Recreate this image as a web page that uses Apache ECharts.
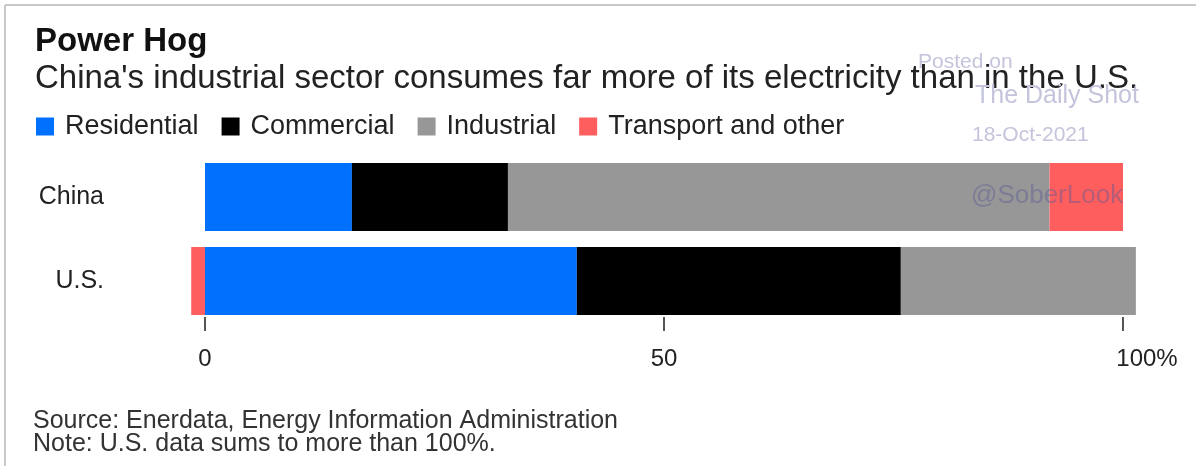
<!DOCTYPE html>
<html>
<head>
<meta charset="utf-8">
<script src="https://cdn.jsdelivr.net/npm/echarts@6/dist/echarts.min.js"></script>
<style>
  html, body { margin: 0; padding: 0; background: #fff; }
  #chart { width: 1196px; height: 466px; }
</style>
</head>
<body>
<div id="chart"></div>
<script>
var categories = ['China', 'U.S.']
var seriesNames = ['Residential', 'Commercial', 'Industrial', 'Transport and other']
var residential = [16, 40.5]
var commercial = [17, 35.3]
var industrial = [59, 25.6]
var transport = [8, -1.5]
var xTicks = [0, 50, 100]

var colors = ['#0070ff', '#000000', '#979797', '#ff5e5e']
var font = 'Liberation Sans, Arial, sans-serif'

var chart = echarts.init(document.getElementById('chart'))

function bar (name, values, color) {
  return {
    name: name,
    type: 'bar',
    stack: 'total',
    barWidth: 68,
    clip: false,
    itemStyle: { color: color },
    data: values
  }
}

var option = {
  animation: false,
  textStyle: { fontFamily: font },
  title: [
    {
      text: 'Power Hog',
      left: 30, top: 20,
      textStyle: { fontSize: 33, fontWeight: 'bold', color: '#111', fontFamily: font }
    },
    {
      text: "China's industrial sector consumes far more of its electricity than in the U.S.",
      left: 30, top: 57,
      textStyle: { fontSize: 33, fontWeight: 'normal', color: '#222', fontFamily: font }
    },
    {
      text: 'Source: Enerdata, Energy Information Administration\nNote: U.S. data sums to more than 100%.',
      left: 28, top: 405,
      textStyle: { fontSize: 25, lineHeight: 23, fontWeight: 'normal', color: '#333', fontFamily: font }
    }
  ],
  legend: {
    left: 31, top: 108,
    icon: 'rect',
    itemWidth: 18, itemHeight: 18,
    itemGap: 23,
    data: seriesNames,
    textStyle: { fontSize: 27, color: '#222', padding: [0, 0, 0, 6], fontFamily: font }
  },
  grid: {
    left: 205, right: 73, top: 155, bottom: 143,
    outerBoundsMode: 'none'
  },
  xAxis: {
    type: 'value',
    min: xTicks[0], max: xTicks[xTicks.length - 1], interval: 50,
    offset: -6,
    axisLine: { show: false },
    splitLine: { show: false },
    axisTick: { show: true, length: 14, lineStyle: { color: '#555', width: 2 } },
    axisLabel: {
      fontSize: 24, color: '#222', margin: 30,
      formatter: function (v) { return v === 100 ? '{p|100%}' : String(v) },
      rich: { p: { fontSize: 24, color: '#222', padding: [0, 0, 0, 48], fontFamily: font } }
    }
  },
  yAxis: {
    type: 'category',
    inverse: true,
    data: categories,
    axisLine: { show: false },
    axisTick: { show: false },
    axisLabel: { fontSize: 25, color: '#222', margin: 101 }
  },
  graphic: [
    { type: 'line', shape: { x1: 5, y1: 5, x2: 1196, y2: 5 }, style: { stroke: '#c8c8c8', lineWidth: 2 } },
    { type: 'line', shape: { x1: 5, y1: 5, x2: 5, y2: 466 }, style: { stroke: '#c8c8c8', lineWidth: 2 } },
    { type: 'text', left: 918, top: 52, z: -1, style: { text: 'Posted on', fontSize: 21, fill: '#c4c4dc', fontFamily: font } },
    { type: 'text', left: 975, top: 84, z: 100, style: { text: 'The Daily Shot', fontSize: 25, fill: '#c4c4dc', fontFamily: font } },
    { type: 'text', left: 972, top: 125, z: 100, style: { text: '18-Oct-2021', fontSize: 21, fill: '#c4c4dc', fontFamily: font } },
    { type: 'text', left: 971, top: 183, z: 100, style: { text: '@SoberLook', fontSize: 26, fill: 'rgba(90,90,150,0.45)', fontFamily: font } }
  ],
  series: [
    bar(seriesNames[0], residential, colors[0]),
    bar(seriesNames[1], commercial, colors[1]),
    bar(seriesNames[2], industrial, colors[2]),
    bar(seriesNames[3], transport, colors[3])
  ]
}

chart.setOption(option)
</script>
</body>
</html>
